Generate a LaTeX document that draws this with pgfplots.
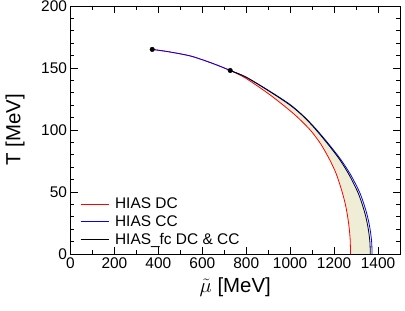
\documentclass[border=0pt]{standalone}
\usepackage{pgfplots}
\pgfplotsset{compat=1.18}
\usepackage{fontspec}
\setmainfont{Liberation Sans}
\definecolor{cream}{rgb}{0.94,0.93,0.84}
\begin{document}
\begin{tikzpicture}
\begin{axis}[
  at={(0,0)}, anchor=south west,
  scale only axis, width=329.5bp, height=248bp,
  xmin=0, xmax=1500, ymin=0, ymax=200,
  xtick={0,200,...,1400}, ytick={0,50,...,200},
  minor x tick num=1, minor y tick num=4,
  tick align=inside, major tick length=7bp, minor tick length=4bp,
  axis line style={line width=0.9bp}, every tick/.style={line width=0.8bp, black},
  /pgf/number format/assume math mode=true,
  /pgf/number format/1000 sep={},
  ticklabel style={font=\fontsize{15.5}{18}\selectfont},
  every axis x label/.style={at={(axis description cs:0.5,-0.135)}, anchor=center},
  every axis y label/.style={at={(axis description cs:-0.168,0.5)}, rotate=90, anchor=center},
  label style={font=\fontsize{20.5}{24}\selectfont},
  xlabel={$\tilde{\mu}$ [MeV]}, ylabel={T [MeV]},
  legend cell align=left,
  legend style={at={(rel axis cs:0.02,0.015)}, anchor=south west, draw=none, fill=none,
    font=\fontsize{15.5}{18}\selectfont, row sep=1.5bp},
  legend image code/.code={\draw[#1] (0bp,0bp) -- (28bp,0bp); \path (32bp,0bp);},
]
% shaded band between red and black curves
\addplot[fill=cream, draw=none, forget plot] coordinates {
 (727,148) (800,142.5) (907,131) (1000,120) (1060,111) (1111,101.5) (1170,89) (1224,76.5) (1268,64) (1305,51) (1322.5,43) (1338.5,34) (1349.5,26) (1357.5,18) (1363,9.5) (1365,0)
 (1275,0) (1273,12) (1268,22) (1260,32) (1250,41) (1235,51) (1210,64.5) (1180,76) (1140,88.5) (1096,99) (1050,107.5) (1000,115.5) (907,128.5) (800,141.5) (727,148)
} -- cycle;
\addplot[red, line width=0.8bp, smooth] coordinates {
 (372,165) (450,163) (550,159.5) (650,153.5) (727,148) (800,141.5) (907,128.5) (1000,115.5) (1050,107.5) (1096,99) (1140,88.5) (1180,76) (1210,64.5) (1235,51) (1250,41) (1260,32) (1268,22) (1273,12) (1275,0)
};
\addlegendentry{HIAS DC}
\addplot[blue, line width=0.8bp, smooth] coordinates {
 (372,165) (450,163) (550,159.5) (650,153.5) (727,148) (800,142.6) (907,131.3) (1000,120.5) (1062,111) (1114,101.5) (1174,89) (1229,76.5) (1275,64) (1313,51) (1330.5,43) (1346.5,34) (1357.5,26) (1365.5,18) (1371,9.5) (1373,0)
};
\addlegendentry{HIAS CC}
\addplot[black, line width=0.8bp, smooth] coordinates {
 (727,148) (800,142.5) (907,131) (1000,120) (1060,111) (1111,101.5) (1170,89) (1224,76.5) (1268,64) (1305,51) (1322.5,43) (1338.5,34) (1349.5,26) (1357.5,18) (1363,9.5) (1365,0)
};
\addlegendentry{HIAS\_fc DC \& CC}
\addplot[only marks, mark=*, mark size=2.3bp, black, forget plot] coordinates {(372,165) (727,148)};
\end{axis}
\pgfresetboundingbox
\path (-70.5bp,-57bp) rectangle (334.5bp,254bp);
\end{tikzpicture}
\end{document}
